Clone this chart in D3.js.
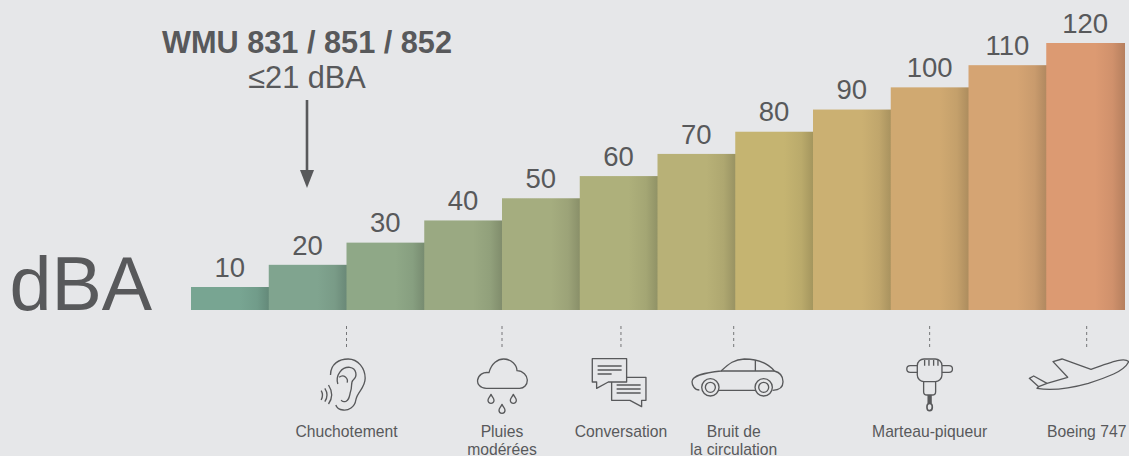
<!DOCTYPE html>
<html>
<head>
<meta charset="utf-8">
<script src="https://cdn.jsdelivr.net/npm/d3@7"></script>
<style>
  html, body { margin: 0; padding: 0; background: #e6e7e9; }
  svg { display: block; font-family: "Liberation Sans", Arial, sans-serif; }
  .icon path, .icon circle, .icon rect { fill: none; stroke: #58595b; stroke-width: 4; stroke-linejoin: round; }
</style>
</head>
<body>
<div id="chart"></div>
<script>
const width = 1129, height = 456;
const textColor = "#58595b";

// decibel steps and the colour of each bar
const levels = [10, 20, 30, 40, 50, 60, 70, 80, 90, 100, 110, 120];
const barColors = ["#78a592", "#80a48f", "#8fa887", "#9aa982", "#a5ad7f", "#aeb07b",
                   "#b8b177", "#c5b471", "#cbb072", "#d0a971", "#d5a473", "#dc9a72"];

// noise sources, placed on the dBA scale
const sourceLevels = [25, 45, 60.3, 74.8, 100, 120.2];
const sourceLabels = [["Chuchotement"], ["Pluies", "modérées"], ["Conversation"],
                      ["Bruit de", "la circulation"], ["Marteau-piqueur"], ["Boeing 747"]];
const sourceIcons = ["ear", "rain", "chat", "car", "hammer", "plane"];

const product = "WMU 831 / 851 / 852";
const productLevel = "≤21 dBA";
const unit = "dBA";

const svg = d3.select("#chart").append("svg")
    .attr("width", width)
    .attr("height", height);

const x = d3.scaleBand().domain(levels).range([191, 1124]);
const y = d3.scaleLinear().domain([10, 120]).range([287, 43]);
const baseline = 310;
// same axis as the bars, but continuous, for the icons
const xLevel = d3.scaleLinear().domain([10, 120]).range([x(10) + x.bandwidth() / 2, x(120) + x.bandwidth() / 2]);

const defs = svg.append("defs");
levels.forEach(function (d, i) {
    const grad = defs.append("linearGradient").attr("id", "bar-" + d);
    grad.append("stop").attr("offset", "0%").attr("stop-color", barColors[i]);
    grad.append("stop").attr("offset", "62%").attr("stop-color", barColors[i]);
    grad.append("stop").attr("offset", "84%").attr("stop-color", d3.color(barColors[i]).darker(0.16));
    grad.append("stop").attr("offset", "100%").attr("stop-color", d3.color(barColors[i]).darker(0.55));
});

svg.selectAll("rect.bar")
    .data(levels)
    .enter()
    .append("rect")
    .attr("class", "bar")
    .attr("x", d => x(d))
    .attr("y", d => y(d))
    .attr("width", x.bandwidth() + 1)
    .attr("height", d => baseline - y(d))
    .attr("fill", d => "url(#bar-" + d + ")");

svg.selectAll("text.level")
    .data(levels)
    .enter()
    .append("text")
    .attr("class", "level")
    .attr("x", d => x(d) + x.bandwidth() / 2)
    .attr("y", d => y(d) - 10.3)
    .attr("text-anchor", "middle")
    .attr("font-size", 27.5)
    .attr("fill", textColor)
    .text(d => d);

svg.append("text")
    .attr("x", 9.5)
    .attr("y", 310)
    .attr("font-size", 75.5)
    .attr("fill", textColor)
    .text(unit);

// product callout
const calloutX = 307;
svg.append("text")
    .attr("x", calloutX)
    .attr("y", 52.5)
    .attr("text-anchor", "middle")
    .attr("font-size", 30.7)
    .attr("font-weight", "bold")
    .attr("fill", textColor)
    .text(product);
svg.append("text")
    .attr("x", calloutX)
    .attr("y", 87.5)
    .attr("text-anchor", "middle")
    .attr("font-size", 30.7)
    .attr("fill", textColor)
    .text(productLevel);
svg.append("line")
    .attr("x1", calloutX).attr("x2", calloutX)
    .attr("y1", 100).attr("y2", 172)
    .attr("stroke", textColor)
    .attr("stroke-width", 2.6);
svg.append("path")
    .attr("d", d3.line()([[calloutX - 7, 170], [calloutX + 7, 170], [calloutX, 188]]))
    .attr("fill", textColor);

// icons are drawn in a 3x grid around the dashed line
const iconPaths = {
    ear: ["M-48,165C-48,130-20,117 5,117C35,117 56,145 56,175C56,205 32,215 28,240C25,262 5,272-10,270C-22,269-30,262-32,255",
          "M-26,192C-34,165-14,140 10,142C30,145 34,168 20,180C12,186 18,200 12,215C8,232 8,240-2,244C-8,246-14,244-16,240",
          "M-22,172C-8,160 6,176 2,188",
          "M-76,212Q-68,225-76,240M-65,205Q-52,225-65,245M-54,195Q-35,225-54,252"],
    rain: ["M-47,85C-67,85-75,70-73,60C-71,45-57,35-39,38C-32,10-12,-3 5,-3C28,-3 45,15 45,32C63,32 76,48 76,60C76,75 66,85 53,85Z"],
    chat: ["M-86,116H17V186H-38L-73,205V186H-86Z",
           "M17,172H75V241H62V260L27,241H-28V186",
           "M-70,138H2M-70,150H2M-70,162H-28M-13,195H59M-13,207H59M-13,219H59"],
    car: ["M-103,210C-118,210-125,195-125,185C-125,165-83,158-38,153C-13,130 2,118 32,117C77,117 107,135 122,153C142,158 148,170 148,185C148,200 137,210 117,211",
          "M-45,211H65M-38,153H122M65,120V153"],
    hammer: ["M-37,137C-37,125-27,117-17,117H17C27,117 37,125 37,137V165C37,177 27,185 17,185H-17C-27,185-37,177-37,165Z",
             "M-37,137H-58C-72,137-72,157-58,157H-37M37,137H58C72,137 72,157 58,157H37",
             "M-15,120V137M-2,120V137M12,120V137M25,120V137",
             "M-18,185V215C-18,222-14,225-8,225H8C14,225 18,222 18,215V185"],
    plane: ["M126,125C115,112 85,122 13,148L-74,117L-101,125L-57,172L-119,190L-159,168L-172,175L-144,200L-149,205C-110,212-60,208 5,190C60,172 112,155 126,125Z",
            "M-144,200L-119,190"]
};

const sources = svg.selectAll("g.source")
    .data(sourceLevels)
    .enter()
    .append("g")
    .attr("class", "source")
    .attr("transform", d => "translate(" + xLevel(d) + ",0)");

sources.append("line")
    .attr("y1", 326).attr("y2", 349)
    .attr("stroke", "#58595b")
    .attr("stroke-width", 0.8)
    .attr("stroke-dasharray", "3,3");

const icons = sources.append("g")
    .attr("class", "icon")
    .attr("transform", "translate(0,320) scale(0.3333)");

icons.each(function (d, i) {
    const g = d3.select(this);
    const name = sourceIcons[i];
    iconPaths[name].forEach(p => g.append("path").attr("d", p));
    if (name === "rain") {
        [[-33, 238], [34, 238], [0, 268]].forEach(function (c) {
            g.append("path").attr("d", "M" + c[0] + "," + (c[1] - 15) +
                "C" + (c[0] + 3) + "," + (c[1] - 7) + " " + (c[0] + 9) + "," + (c[1] - 3) + " " + (c[0] + 9) + "," + (c[1] + 3) +
                "A9,9 0 1 1 " + (c[0] - 9) + "," + (c[1] + 3) +
                "C" + (c[0] - 9) + "," + (c[1] - 3) + " " + (c[0] - 3) + "," + (c[1] - 7) + " " + c[0] + "," + (c[1] - 15) + "Z");
        });
        g.select("path").attr("transform", "translate(0,120)");
    }
    if (name === "car") {
        [[-70, 202], [90, 202]].forEach(function (c) {
            g.append("circle").attr("cx", c[0]).attr("cy", c[1]).attr("r", 26);
            g.append("circle").attr("cx", c[0]).attr("cy", c[1]).attr("r", 15);
        });
    }
    if (name === "hammer") {
        g.append("line").attr("y1", 225).attr("y2", 250).attr("stroke", "#58595b").attr("stroke-width", 13);
        g.append("ellipse").attr("cy", 261).attr("rx", 8).attr("ry", 11)
            .attr("fill", "none").attr("stroke", "#58595b").attr("stroke-width", 5);
    }
});

sources.each(function (d, i) {
    const t = d3.select(this).append("text")
        .attr("text-anchor", "middle")
        .attr("font-size", 15.7)
        .attr("fill", textColor);
    sourceLabels[i].forEach(function (s, k) {
        t.append("tspan").attr("x", 0).attr("y", 436.5 + k * 18).text(s);
    });
});
</script>
</body>
</html>
